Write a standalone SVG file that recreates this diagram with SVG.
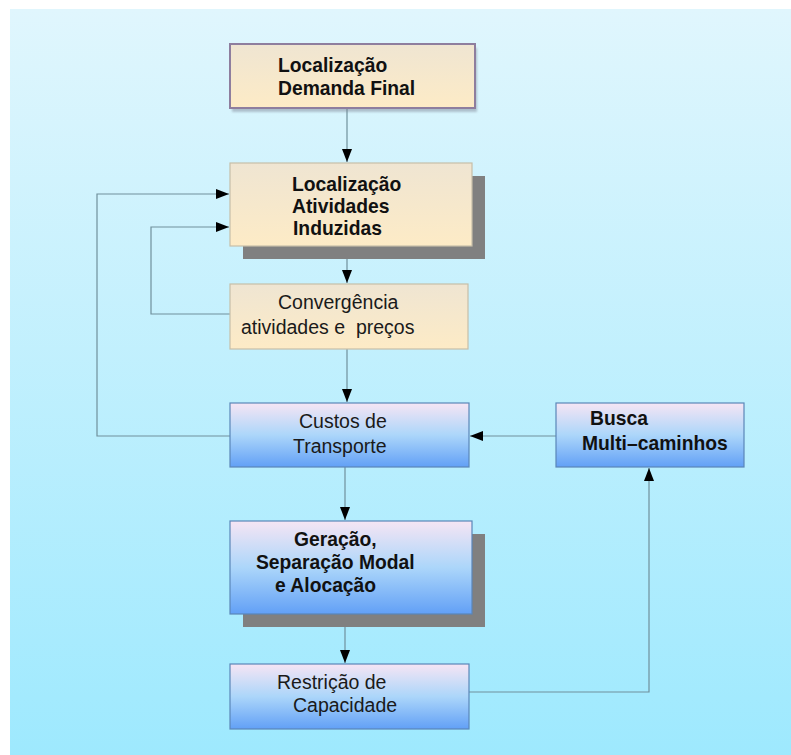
<svg xmlns="http://www.w3.org/2000/svg" width="791" height="755" viewBox="0 0 791 755">
  <defs>
    <linearGradient id="bg" x1="0" y1="0" x2="0" y2="1">
      <stop offset="0" stop-color="#e0f6fd"/>
      <stop offset="1" stop-color="#9ee9fe"/>
    </linearGradient>
    <linearGradient id="tan" x1="0" y1="0" x2="0" y2="1">
      <stop offset="0" stop-color="#efe5d2"/>
      <stop offset="1" stop-color="#fdebc6"/>
    </linearGradient>
    <linearGradient id="blue" x1="0" y1="0" x2="0" y2="1">
      <stop offset="0" stop-color="#f6e5f4"/>
      <stop offset="0.5" stop-color="#acd6fa"/>
      <stop offset="1" stop-color="#62a0f6"/>
    </linearGradient>
    <filter id="soft" x="-10%" y="-20%" width="120%" height="150%">
      <feGaussianBlur stdDeviation="1.2"/>
    </filter>
    <marker id="head" viewBox="0 0 13 10" refX="13" refY="5" markerWidth="13" markerHeight="10" markerUnits="userSpaceOnUse" orient="auto">
      <path d="M0,0 L13,5 L0,10 Z" fill="#000"/>
    </marker>
  </defs>
  <style>
    .wire { fill: none; stroke: #70909c; stroke-width: 1.2; }
    .arrow { marker-end: url(#head); }
    .tanbox { fill: url(#tan); stroke: #c6bea8; stroke-width: 1.2; }
    .bluebox { fill: url(#blue); stroke: #5a86b8; stroke-width: 1.2; }
    .shadow { fill: #808080; }
    .bold { font-family: "Liberation Sans", Arial, sans-serif; font-weight: bold; font-size: 19.3px; fill: #111; }
    .plain { font-family: "Liberation Sans", Arial, sans-serif; font-size: 19.5px; fill: #1a1a1a; white-space: pre; }
  </style>

  <!-- backdrop panel -->
  <rect x="0" y="0" width="791" height="755" fill="#ffffff"/>
  <rect x="10" y="9" width="781" height="746" fill="url(#bg)"/>

  <!-- connectors -->
  <g id="connectors">
    <path class="wire arrow" d="M347,108 V162"/>
    <path class="wire arrow" d="M347,246 V283"/>
    <path class="wire arrow" d="M347,349 V402"/>
    <path class="wire arrow" d="M345,467 V520"/>
    <path class="wire arrow" d="M345,614 V663"/>
    <path class="wire arrow" d="M469,692 H649 V468"/>
    <path class="wire arrow" d="M556,436 H470"/>
    <path class="wire arrow" d="M230,436 H97 V194 H229"/>
    <path class="wire arrow" d="M230,314 H151 V227 H229"/>
  </g>

  <!-- Localização Demanda Final -->
  <g id="demanda-final">
    <rect x="232" y="48" width="245" height="64" fill="#7a8090" opacity="0.45" filter="url(#soft)"/>
    <rect x="230" y="44" width="245" height="64" fill="url(#tan)" stroke="#8e7e9e" stroke-width="2"/>
    <text class="bold" x="278" y="72">Localização</text>
    <text class="bold" x="278" y="95">Demanda Final</text>
  </g>

  <!-- Localização Atividades Induzidas -->
  <g id="atividades-induzidas">
    <rect class="shadow" x="243" y="176" width="242" height="83"/>
    <rect class="tanbox" x="230" y="163" width="242" height="83"/>
    <text class="bold" x="292" y="191">Localização</text>
    <text class="bold" x="292" y="213">Atividades</text>
    <text class="bold" x="293" y="235">Induzidas</text>
  </g>

  <!-- Convergência -->
  <g id="convergencia">
    <rect class="tanbox" x="230" y="284" width="238" height="65"/>
    <text class="plain" x="278" y="309">Convergência</text>
    <text class="plain" x="241" y="334" xml:space="preserve">atividades e  preços</text>
  </g>

  <!-- Custos de Transporte -->
  <g id="custos-transporte">
    <rect class="bluebox" x="230" y="403" width="239" height="64"/>
    <text class="plain" x="299" y="428">Custos de</text>
    <text class="plain" x="293" y="453">Transporte</text>
  </g>

  <!-- Busca Multi-caminhos -->
  <g id="busca">
    <rect class="bluebox" x="556" y="403" width="188" height="64"/>
    <text class="bold" x="590" y="425">Busca</text>
    <text class="bold" x="582" y="450">Multi–caminhos</text>
  </g>

  <!-- Geração, Separação Modal e Alocação -->
  <g id="geracao">
    <rect class="shadow" x="243" y="534" width="242" height="93"/>
    <rect class="bluebox" x="230" y="521" width="242" height="93"/>
    <text class="bold" x="294" y="546">Geração,</text>
    <text class="bold" x="256" y="569">Separação Modal</text>
    <text class="bold" x="275" y="592">e Alocação</text>
  </g>

  <!-- Restrição de Capacidade -->
  <g id="restricao">
    <rect class="bluebox" x="230" y="664" width="239" height="65"/>
    <text class="plain" x="277" y="689">Restrição de</text>
    <text class="plain" x="293" y="712">Capacidade</text>
  </g>
</svg>
